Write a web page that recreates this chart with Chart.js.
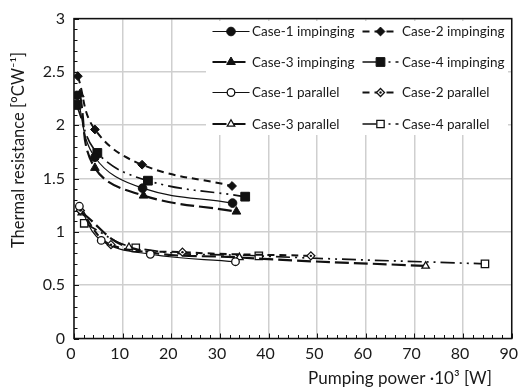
<!DOCTYPE html>
<html>
<head>
<meta charset="utf-8">
<script src="https://cdn.jsdelivr.net/npm/chart.js@4/dist/chart.umd.min.js"></script>
<style>
  html, body { margin: 0; padding: 0; background: #fff; }
  #wrap { width: 527px; height: 389px; position: relative; }
</style>
</head>
<body>
<div id="wrap"><canvas id="c" width="527" height="389"></canvas></div>
<script>
// Pumping power (x 10^3 W) and thermal resistance (°C/W) per case
const case1ImpX = [0.6, 4.3, 14.1, 32.6];
const case1ImpY = [2.28, 1.70, 1.41, 1.27];
const case2ImpX = [0.8, 4.3, 14.0, 32.5];
const case2ImpY = [2.46, 1.96, 1.63, 1.43];
const case3ImpX = [1.2, 4.3, 14.3, 33.4];
const case3ImpY = [2.29, 1.60, 1.34, 1.19];
const case4ImpX = [0.5, 4.8, 15.2, 35.2];
const case4ImpY = [2.19, 1.74, 1.48, 1.33];

const case1ParX = [1.1, 5.6, 15.7, 33.2];
const case1ParY = [1.24, 0.92, 0.79, 0.72];
const case2ParX = [1.3, 7.6, 22.3, 48.7];
const case2ParY = [1.20, 0.88, 0.81, 0.775];
const case3ParX = [1.6, 11.3, 34.0, 72.3];
const case3ParY = [1.18, 0.855, 0.76, 0.68];
const case4ParX = [2.1, 12.7, 38.0, 84.5];
const case4ParY = [1.08, 0.85, 0.775, 0.70];

const seriesLabels = [
  'Case-1 impinging', 'Case-2 impinging',
  'Case-3 impinging', 'Case-4 impinging',
  'Case-1 parallel', 'Case-2 parallel',
  'Case-3 parallel', 'Case-4 parallel'
];

const xTicks = [0, 10, 20, 30, 40, 50, 60, 70, 80, 90];
const yTicks = [0, 0.5, 1, 1.5, 2, 2.5, 3];

const FONT = 'Lato, "Open Sans", sans-serif';

function pts(xs, ys) { return xs.map((x, i) => ({ x: x, y: ys[i] })); }

// line styles per case number
const styles = {
  1: { dash: [], width: 1.2 },
  2: { dash: [7, 5], width: 2 },
  3: { dash: [14, 5], width: 2.2 },
  4: { dash: [14, 5, 2, 5, 2, 5], width: 1.7 }
};
const markers = {
  1: { style: 'circle', r: 4.3 },
  2: { style: 'rectRot', r: 4.4 },
  3: { style: 'triangle', r: 5 },
  4: { style: 'rect', r: 6.2 }
};
const openMarkers = {
  1: { style: 'circle', r: 3.8 },
  2: { style: 'rectRot', r: 4 },
  3: { style: 'triangle', r: 4.3 },
  4: { style: 'rect', r: 5.2 }
};

function ds(label, data, caseNo, filled) {
  const s = styles[caseNo];
  const m = filled ? markers[caseNo] : openMarkers[caseNo];
  return {
    label: label,
    data: data,
    showLine: true,
    tension: 0.4,
    borderColor: '#111',
    borderWidth: s.width,
    borderDash: s.dash,
    pointStyle: m.style,
    pointRadius: m.r,
    pointHoverRadius: m.r,
    pointBackgroundColor: filled ? '#111' : '#fff',
    pointBorderColor: '#111',
    pointBorderWidth: filled ? 1 : 1.3,
    fill: false
  };
}

const datasets = [
  ds(seriesLabels[0], pts(case1ImpX, case1ImpY), 1, true),
  ds(seriesLabels[1], pts(case2ImpX, case2ImpY), 2, true),
  ds(seriesLabels[2], pts(case3ImpX, case3ImpY), 3, true),
  ds(seriesLabels[3], pts(case4ImpX, case4ImpY), 4, true),
  ds(seriesLabels[4], pts(case1ParX, case1ParY), 1, false),
  ds(seriesLabels[5], pts(case2ParX, case2ParY), 2, false),
  ds(seriesLabels[6], pts(case3ParX, case3ParY), 3, false),
  ds(seriesLabels[7], pts(case4ParX, case4ParY), 4, false)
];

// dot drawn inside the open diamond markers of Case-2 parallel
const innerDots = {
  id: 'innerDots',
  afterDatasetsDraw(chart) {
    const ctx = chart.ctx;
    const meta = chart.getDatasetMeta(5);
    ctx.save();
    ctx.fillStyle = '#111';
    meta.data.forEach(p => {
      ctx.beginPath();
      ctx.arc(p.x, p.y, 1.2, 0, Math.PI * 2);
      ctx.fill();
    });
    ctx.restore();
  }
};

// frame, inward ticks, legend box and axis titles
const decorations = {
  id: 'decorations',
  beforeDatasetsDraw(chart) {
    const ctx = chart.ctx;
    const a = chart.chartArea;
    const xs = chart.scales.x, ys = chart.scales.y;
    ctx.save();
    // white legend panel over the grid
    ctx.fillStyle = '#fff';
    ctx.fillRect(206, 21, 302, 114);

    // inward ticks
    ctx.strokeStyle = '#111';
    ctx.lineWidth = 1;
    ctx.beginPath();
    for (let v = 0; v <= 90.001; v += 2) {
      const px = Math.round(xs.getPixelForValue(v)) + 0.5;
      const len = (Math.abs(v % 10) < 1e-6) ? 5 : 3.5;
      ctx.moveTo(px, a.bottom);
      ctx.lineTo(px, a.bottom - len);
    }
    for (let i = 0; i <= 30; i++) {
      const v = i / 10;
      const py = Math.round(ys.getPixelForValue(v)) + 0.5;
      const len = (i % 5 === 0) ? 5 : 3.5;
      ctx.moveTo(a.left, py);
      ctx.lineTo(a.left + len, py);
    }
    ctx.stroke();
    ctx.restore();
  },
  afterDraw(chart) {
    const ctx = chart.ctx;
    const a = chart.chartArea;
    const helpers = Chart.helpers;
    ctx.save();
    // frame
    ctx.strokeStyle = '#111';
    ctx.lineWidth = 1.5;
    ctx.strokeRect(a.left, a.top, a.right - a.left, a.bottom - a.top);

    // legend entries
    const rows = [31.5, 62, 92.5, 124];
    const cols = [
      { x0: 212.5, x1: 249.5, tx: 252 },
      { x0: 362.5, x1: 398.5, tx: 402 }
    ];
    ctx.font = '13.5px ' + FONT;
    ctx.textBaseline = 'middle';
    ctx.textAlign = 'left';
    chart.data.datasets.forEach((d, i) => {
      const col = cols[i % 2];
      const row = rows[Math.floor(i / 2)];
      ctx.save();
      ctx.strokeStyle = d.borderColor;
      ctx.lineWidth = d.borderWidth;
      ctx.setLineDash(d.borderDash);
      ctx.beginPath();
      ctx.moveTo(col.x0, row);
      ctx.lineTo(col.x1, row);
      ctx.stroke();
      ctx.restore();
      ctx.save();
      ctx.fillStyle = d.pointBackgroundColor;
      ctx.strokeStyle = d.pointBorderColor;
      ctx.lineWidth = d.pointBorderWidth;
      helpers.drawPoint(ctx, {
        pointStyle: d.pointStyle,
        radius: d.pointRadius,
        rotation: 0,
        borderWidth: d.pointBorderWidth
      }, (col.x0 + col.x1) / 2, row);
      if (i === 5) {
        ctx.fillStyle = '#111';
        ctx.beginPath();
        ctx.arc((col.x0 + col.x1) / 2, row, 1.2, 0, Math.PI * 2);
        ctx.fill();
      }
      ctx.restore();
      ctx.fillStyle = '#1a1a1a';
      ctx.fillText(d.label, col.tx, row + 0.5);
    });

    // axis titles
    ctx.fillStyle = '#1a1a1a';
    ctx.font = '17px ' + FONT;
    ctx.textAlign = 'center';
    ctx.textBaseline = 'middle';
    ctx.fillText('Pumping power \u00B710\u00B3 [W]', 400, 379);
    ctx.font = '16.5px ' + FONT;
    ctx.save();
    ctx.translate(19, 150);
    ctx.rotate(-Math.PI / 2);
    ctx.fillText('Thermal resistance [\u00B0CW\u207B\u00B9]', 0, 0);
    ctx.restore();
    ctx.restore();
  }
};

new Chart(document.getElementById('c'), {
  type: 'scatter',
  data: { datasets: datasets },
  options: {
    responsive: false,
    animation: false,
    devicePixelRatio: 1,
    layout: { padding: { top: 14, right: 10, left: 0, bottom: 0 } },
    plugins: { legend: { display: false }, tooltip: { enabled: false } },
    scales: {
      x: {
        type: 'linear',
        min: 0, max: 90,
        afterBuildTicks(scale) { scale.ticks = xTicks.map(v => ({ value: v })); },
        afterFit(scale) { scale.height = 50.5; },
        grid: { color: '#cfcfcf', lineWidth: 1.5, drawTicks: false },
        border: { display: false },
        ticks: {
          padding: 6,
          labelOffset: -3,
          color: '#1a1a1a',
          font: { family: FONT, size: 16 },
          callback: v => String(v)
        }
      },
      y: {
        type: 'linear',
        min: 0, max: 3,
        afterBuildTicks(scale) { scale.ticks = yTicks.map(v => ({ value: v })); },
        afterFit(scale) { scale.width = 74; },
        grid: { color: '#cfcfcf', lineWidth: 1.5, drawTicks: false },
        border: { display: false },
        ticks: {
          padding: 9,
          color: '#1a1a1a',
          font: { family: FONT, size: 16 },
          callback: v => String(v)
        }
      }
    }
  },
  plugins: [innerDots, decorations]
});
</script>
</body>
</html>
